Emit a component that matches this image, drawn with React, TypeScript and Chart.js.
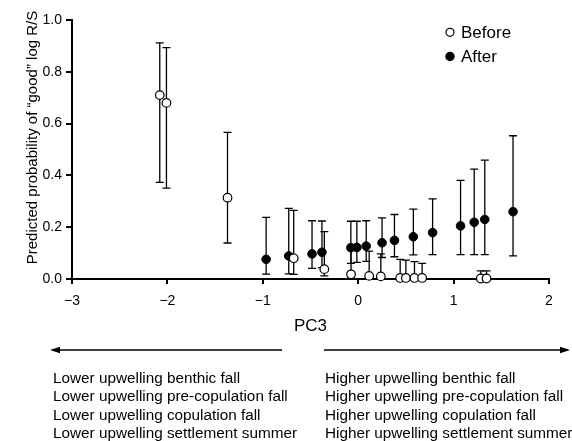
import React, { useEffect, useRef } from "react";
import { Chart, registerables } from "chart.js";

Chart.register(...registerables);

// ---- data ----
const beforeX = [-2.08, -2.01, -1.37, -0.676, -0.355, -0.075, 0.115, 0.237, 0.44, 0.5, 0.59, 0.67, 1.285, 1.345];
const beforeY = [0.71, 0.68, 0.314, 0.08, 0.038, 0.018, 0.012, 0.01, 0.004, 0.004, 0.004, 0.004, 0.002, 0.002];
const beforeLow = [0.373, 0.351, 0.139, 0.018, 0.012, 0.003, 0.002, 0.002, 0, 0, 0, 0, 0, 0];
const beforeHigh = [0.912, 0.893, 0.566, 0.265, 0.183, 0.12, 0.108, 0.097, 0.076, 0.073, 0.067, 0.06, 0.031, 0.031];

const afterX = [-0.965, -0.728, -0.484, -0.38, -0.077, -0.014, 0.084, 0.25, 0.38, 0.578, 0.78, 1.073, 1.216, 1.327, 1.623];
const afterY = [0.076, 0.089, 0.097, 0.103, 0.121, 0.122, 0.127, 0.14, 0.149, 0.163, 0.179, 0.205, 0.219, 0.23, 0.26];
const afterLow = [0.019, 0.02, 0.041, 0.044, 0.06, 0.064, 0.068, 0.083, 0.086, 0.093, 0.094, 0.094, 0.094, 0.094, 0.089];
const afterHigh = [0.238, 0.273, 0.225, 0.224, 0.223, 0.223, 0.225, 0.236, 0.249, 0.27, 0.309, 0.381, 0.424, 0.459, 0.553];

const xTickValues = [-3, -2, -1, 0, 1, 2];
const xTickLabels = ["\u22123", "\u22122", "\u22121", "0", "1", "2"];
const yTickValues = [0, 0.2, 0.4, 0.6, 0.8, 1.0];
const yTickLabels = ["0.0", "0.2", "0.4", "0.6", "0.8", "1.0"];

const seriesNames = ["Before", "After"];
const xTitle = "PC3";
const yTitle = "Predicted probability of \u201cgood\u201d log R/S";
const leftLabels = [
  "Lower upwelling benthic fall",
  "Lower upwelling pre-copulation fall",
  "Lower upwelling copulation fall",
  "Lower upwelling settlement summer",
];
const rightLabels = [
  "Higher upwelling benthic fall",
  "Higher upwelling pre-copulation fall",
  "Higher upwelling copulation fall",
  "Higher upwelling settlement summer",
];

const FONT = "'Liberation Sans', Arial, Helvetica, sans-serif";

const errorBarPlugin = {
  id: "errorBars",
  beforeDatasetsDraw(chart: any) {
    const { ctx } = chart;
    const xs = chart.scales.x;
    const ys = chart.scales.y;
    const sets: [number[], number[], number[]][] = [
      [afterX, afterLow, afterHigh],
      [beforeX, beforeLow, beforeHigh],
    ];
    ctx.save();
    ctx.strokeStyle = "#000";
    ctx.lineWidth = 1.3;
    for (const [xv, lo, hi] of sets) {
      xv.forEach((v, i) => {
        const px = xs.getPixelForValue(v);
        const p1 = ys.getPixelForValue(lo[i]);
        const p2 = ys.getPixelForValue(hi[i]);
        ctx.beginPath();
        ctx.moveTo(px, p1);
        ctx.lineTo(px, p2);
        ctx.moveTo(px - 4, p1);
        ctx.lineTo(px + 4, p1);
        ctx.moveTo(px - 4, p2);
        ctx.lineTo(px + 4, p2);
        ctx.stroke();
      });
    }
    ctx.restore();
  },
};

const annotationPlugin = {
  id: "annotations",
  afterDraw(chart: any) {
    const { ctx } = chart;
    ctx.save();
    ctx.fillStyle = "#000";
    ctx.strokeStyle = "#000";

    // legend
    ctx.lineWidth = 1.2;
    ctx.beginPath();
    ctx.arc(450, 32.3, 4, 0, Math.PI * 2);
    ctx.fillStyle = "#fff";
    ctx.fill();
    ctx.stroke();
    ctx.fillStyle = "#000";
    ctx.beginPath();
    ctx.arc(450, 56.5, 4.7, 0, Math.PI * 2);
    ctx.fill();
    ctx.font = `17px ${FONT}`;
    ctx.textAlign = "left";
    ctx.textBaseline = "alphabetic";
    ctx.fillText(seriesNames[0], 461, 38);
    ctx.fillText(seriesNames[1], 461, 62);

    // y title
    ctx.save();
    ctx.translate(37, 137.5);
    ctx.rotate(-Math.PI / 2);
    ctx.font = `15px ${FONT}`;
    ctx.textAlign = "center";
    ctx.textBaseline = "alphabetic";
    ctx.fillText(yTitle, 0, 0);
    ctx.restore();

    // arrows
    ctx.lineWidth = 1.3;
    ctx.beginPath();
    ctx.moveTo(57, 350);
    ctx.lineTo(282, 350);
    ctx.moveTo(324, 350);
    ctx.lineTo(562, 350);
    ctx.stroke();
    ctx.beginPath();
    ctx.moveTo(50, 350);
    ctx.lineTo(60, 346.8);
    ctx.lineTo(60, 353.2);
    ctx.closePath();
    ctx.fill();
    ctx.beginPath();
    ctx.moveTo(570, 350);
    ctx.lineTo(560, 346.8);
    ctx.lineTo(560, 353.2);
    ctx.closePath();
    ctx.fill();

    // bottom labels
    ctx.font = `15.3px ${FONT}`;
    ctx.textAlign = "left";
    ctx.textBaseline = "alphabetic";
    const baselines = [382.5, 401, 419.7, 438.3];
    leftLabels.forEach((t, i) => ctx.fillText(t, 53, baselines[i]));
    rightLabels.forEach((t, i) => ctx.fillText(t, 325, baselines[i]));

    ctx.restore();
  },
};

export default function App() {
  const ref = useRef<HTMLCanvasElement>(null);
  useEffect(() => {
    document.body.style.margin = "0";
    const canvas = ref.current!;
    const chart = new Chart(canvas, {
      type: "scatter",
      data: {
        datasets: [
          {
            label: seriesNames[0],
            data: beforeX.map((x, i) => ({ x, y: beforeY[i] })),
            backgroundColor: "#fff",
            borderColor: "#000",
            borderWidth: 1.2,
            pointRadius: 4.3,
            pointHoverRadius: 4.3,
            pointStyle: "circle",
            clip: false as any,
          },
          {
            label: seriesNames[1],
            data: afterX.map((x, i) => ({ x, y: afterY[i] })),
            backgroundColor: "#000",
            borderColor: "#000",
            borderWidth: 1,
            pointRadius: 4.3,
            pointHoverRadius: 4.3,
            pointStyle: "circle",
            clip: false as any,
          },
        ],
      },
      options: {
        animation: false,
        responsive: false,
        devicePixelRatio: 1,
        events: [],
        layout: { padding: { top: 20, right: 23, bottom: 104, left: 0 } },
        plugins: {
          legend: { display: false },
          tooltip: { enabled: false },
        },
        scales: {
          x: {
            type: "linear",
            min: -3,
            max: 2,
            afterBuildTicks: (s: any) => {
              s.ticks = xTickValues.map((v) => ({ value: v }));
            },
            afterFit: (s: any) => {
              s.height = 58;
            },
            ticks: {
              callback: (_v: any, i: number) => xTickLabels[i],
              color: "#000",
              font: { family: FONT, size: 14 },
              padding: 9,
              maxRotation: 0,
              autoSkip: false,
            },
            grid: {
              drawOnChartArea: false,
              drawTicks: true,
              tickLength: 5,
              color: "#000",
              lineWidth: 2,
            },
            border: { display: true, color: "#000", width: 2 },
            title: {
              display: true,
              text: xTitle,
              color: "#000",
              font: { family: FONT, size: 17 },
              padding: { top: 0, bottom: 0 },
            },
          },
          y: {
            type: "linear",
            min: 0,
            max: 1,
            afterBuildTicks: (s: any) => {
              s.ticks = yTickValues.map((v) => ({ value: v }));
            },
            afterFit: (s: any) => {
              s.width = 72;
            },
            ticks: {
              callback: (_v: any, i: number) => yTickLabels[i],
              color: "#000",
              font: { family: FONT, size: 14 },
              padding: 4,
              autoSkip: false,
            },
            grid: {
              drawOnChartArea: false,
              drawTicks: true,
              tickLength: 6,
              color: "#000",
              lineWidth: 2,
            },
            border: { display: true, color: "#000", width: 2 },
          },
        },
      },
      plugins: [errorBarPlugin, annotationPlugin],
    } as any);
    return () => chart.destroy();
  }, []);
  return (
    <div style={{ position: "absolute", left: 0, top: 0, width: 572, height: 441 }}>
      <canvas ref={ref} width={572} height={441} style={{ display: "block" }} />
    </div>
  );
}
